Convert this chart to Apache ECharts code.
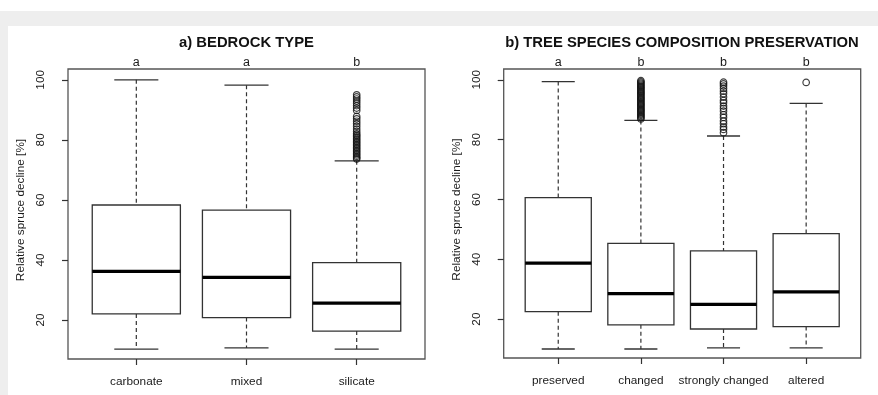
<!DOCTYPE html>
<html>
<head>
<meta charset="utf-8">
<script src="https://cdn.jsdelivr.net/npm/echarts@6/dist/echarts.min.js"></script>
<style>
html,body{margin:0;padding:0;background:#fff;}
#chart{width:878px;height:395px;}
</style>
</head>
<body>
<div id="chart"></div>
<script>
// ---- Data ----
const titleA = 'a) BEDROCK TYPE';
const titleB = 'b) TREE SPECIES COMPOSITION PRESERVATION';
const yAxisName = 'Relative spruce decline [%]';
const yTicks = [20, 40, 60, 80, 100];

const bedrockCats = ['carbonate', 'mixed', 'silicate'];
const bedrockLetters = ['a', 'a', 'b'];
// [lower whisker, Q1, median, Q3, upper whisker]
const bedrockCarbonate = [10.3, 22.0, 36.2, 58.3, 100.0];
const bedrockMixed = [10.7, 20.8, 34.2, 56.6, 98.2];
const bedrockSilicate = [10.3, 16.3, 25.6, 39.1, 73.0];
const bedrockSilicateOutliers = [95.0, 94.3, 93.6, 92.9, 92.2, 91.4, 90.6, 89.8, 87.8, 87.0, 86.2, 85.4, 84.5, 83.6, 82.8, 82.0, 81.5, 81.0, 80.5, 80.0, 79.5, 79.0, 78.5, 78.0, 77.5, 77.0, 76.5, 76.0, 75.5, 75.0, 74.5, 74.0, 73.6];

const speciesCats = ['preserved', 'changed', 'strongly changed', 'altered'];
const speciesLetters = ['a', 'b', 'b', 'b'];
const speciesPreserved = [10.0, 22.5, 38.7, 60.6, 99.4];
const speciesChanged = [10.0, 18.1, 28.5, 45.3, 86.4];
const speciesStrongly = [10.4, 16.7, 24.9, 42.8, 81.2];
const speciesAltered = [10.4, 17.5, 29.1, 48.6, 92.1];
const speciesChangedOutliers = [86.9, 87.3, 87.7, 88.1, 88.5, 88.9, 89.3, 89.7, 90.1, 90.5, 90.9, 91.3, 91.7, 92.1, 92.5, 92.9, 93.3, 93.7, 94.1, 94.5, 94.9, 95.3, 95.7, 96.1, 96.5, 96.9, 97.3, 97.7, 98.1, 98.5, 98.9, 99.3, 99.7];
const speciesStronglyOutliers = [82.3, 83.4, 84.2, 85.3, 86.2, 87.4, 88.3, 89.5, 90.4, 91.2, 92.3, 93.1, 94.2, 95.3, 96.2, 97.1, 97.9, 98.6, 99.2];
const speciesAlteredOutliers = [99.1];

// ---- Build ----
const bedrockStats = [bedrockCarbonate, bedrockMixed, bedrockSilicate];
const speciesStats = [speciesPreserved, speciesChanged, speciesStrongly, speciesAltered];
const bedrockOutliers = [[], [], bedrockSilicateOutliers];
const speciesOutliers = [[], speciesChangedOutliers, speciesStronglyOutliers, speciesAlteredOutliers];

const FONT = 'Liberation Sans, Arial, sans-serif';
const LINE = '#333';

function boxData(stats) { return stats.map((s, i) => [i + 1].concat(s)); }
function outlierData(outs) {
  const d = [];
  outs.forEach((arr, i) => arr.forEach(v => d.push([i + 1, v])));
  return d;
}

function renderBox(params, api) {
  const x = api.value(0);
  const lo = api.value(1), q1 = api.value(2), med = api.value(3), q3 = api.value(4), hi = api.value(5);
  const hw = 0.4, cw = 0.2;
  const tl = api.coord([x - hw, q3]);
  const br = api.coord([x + hw, q1]);
  const mL = api.coord([x - hw, med]);
  const mR = api.coord([x + hw, med]);
  const cHiL = api.coord([x - cw, hi]), cHiR = api.coord([x + cw, hi]);
  const cLoL = api.coord([x - cw, lo]), cLoR = api.coord([x + cw, lo]);
  const pHi = api.coord([x, hi]), pQ3 = api.coord([x, q3]);
  const pQ1 = api.coord([x, q1]), pLo = api.coord([x, lo]);
  const solid = { stroke: LINE, lineWidth: 1.3, fill: null };
  const dashed = { stroke: LINE, lineWidth: 1.2, lineDash: [4, 3], fill: null };
  return {
    type: 'group',
    children: [
      { type: 'line', shape: { x1: pHi[0], y1: pHi[1], x2: pQ3[0], y2: pQ3[1] }, style: dashed },
      { type: 'line', shape: { x1: pQ1[0], y1: pQ1[1], x2: pLo[0], y2: pLo[1] }, style: dashed },
      { type: 'line', shape: { x1: cHiL[0], y1: cHiL[1], x2: cHiR[0], y2: cHiR[1] }, style: solid },
      { type: 'line', shape: { x1: cLoL[0], y1: cLoL[1], x2: cLoR[0], y2: cLoR[1] }, style: solid },
      { type: 'rect', shape: { x: tl[0], y: tl[1], width: br[0] - tl[0], height: br[1] - tl[1] }, style: { stroke: LINE, lineWidth: 1.3, fill: '#fff' } },
      { type: 'line', shape: { x1: mL[0], y1: mL[1], x2: mR[0], y2: mR[1] }, style: { stroke: '#000', lineWidth: 3.2 } }
    ]
  };
}

function xBottom(gridIndex, cats) {
  const vals = cats.map((c, i) => i + 1);
  return {
    type: 'value', gridIndex: gridIndex, position: 'bottom',
    min: 0.5 - 0.04 * cats.length, max: cats.length + 0.5 + 0.04 * cats.length,
    axisLine: { show: false }, splitLine: { show: false },
    axisTick: { show: true, customValues: vals, length: 6, lineStyle: { color: LINE, width: 1.2 } },
    axisLabel: { customValues: vals, margin: 17, fontFamily: FONT, fontSize: 11.8, color: '#1a1a1a',
      formatter: v => cats[Math.round(v) - 1] || '' }
  };
}
function xTop(gridIndex, cats, letters) {
  const vals = cats.map((c, i) => i + 1);
  return {
    type: 'value', gridIndex: gridIndex, position: 'top',
    min: 0.5 - 0.04 * cats.length, max: cats.length + 0.5 + 0.04 * cats.length,
    axisLine: { show: false }, splitLine: { show: false }, axisTick: { show: false },
    axisLabel: { customValues: vals, margin: 0, fontFamily: FONT, fontSize: 12.5, color: '#1a1a1a',
      formatter: v => letters[Math.round(v) - 1] || '' }
  };
}
function yAx(gridIndex) {
  return {
    type: 'value', gridIndex: gridIndex, min: 7, max: 103.6,
    name: yAxisName, nameLocation: 'middle', nameGap: 41,
    nameTextStyle: { fontFamily: FONT, fontSize: 11.8, color: '#1a1a1a', padding: [0, 0, 0, 8] },
    axisLine: { show: false }, splitLine: { show: false },
    axisTick: { show: true, customValues: yTicks, length: 6, lineStyle: { color: LINE, width: 1.2 } },
    axisLabel: { customValues: yTicks, rotate: 90, margin: 21, fontFamily: FONT, fontSize: 11.8, color: '#1a1a1a' }
  };
}

const chart = echarts.init(document.getElementById('chart'), null, { renderer: 'canvas' });
const option = {
  animation: false,
  backgroundColor: '#fff',
  graphic: [
    { type: 'rect', shape: { x: 0, y: 11, width: 878, height: 15 }, style: { fill: '#eeeeee' }, silent: true },
    { type: 'rect', shape: { x: 0, y: 26, width: 8, height: 369 }, style: { fill: '#eeeeee' }, silent: true }
  ],
  title: [
    { text: titleA, left: 241.5, top: 30, textAlign: 'center',
      textStyle: { fontFamily: FONT, fontWeight: 'bold', fontSize: 14.8, color: '#111' } },
    { text: titleB, left: 677, top: 30, textAlign: 'center',
      textStyle: { fontFamily: FONT, fontWeight: 'bold', fontSize: 14.8, color: '#111' } }
  ],
  grid: [
    { left: 68, top: 69, width: 357, height: 290, show: true, borderColor: '#555', borderWidth: 1.3, backgroundColor: 'transparent' },
    { left: 503.7, top: 69, width: 357, height: 289, show: true, borderColor: '#555', borderWidth: 1.3, backgroundColor: 'transparent' }
  ],
  xAxis: [
    xBottom(0, bedrockCats), xTop(0, bedrockCats, bedrockLetters),
    xBottom(1, speciesCats), xTop(1, speciesCats, speciesLetters)
  ],
  yAxis: [yAx(0), yAx(1)],
  series: [
    { type: 'custom', xAxisIndex: 0, yAxisIndex: 0, renderItem: renderBox, data: boxData(bedrockStats), encode: { x: 0, y: [1, 2, 3, 4, 5] }, z: 2 },
    { type: 'custom', xAxisIndex: 2, yAxisIndex: 1, renderItem: renderBox, data: boxData(speciesStats), encode: { x: 0, y: [1, 2, 3, 4, 5] }, z: 2 },
    { type: 'scatter', xAxisIndex: 0, yAxisIndex: 0, data: outlierData(bedrockOutliers), symbol: 'circle', symbolSize: 6.5,
      itemStyle: { color: 'rgba(0,0,0,0)', borderColor: '#111', borderWidth: 1.2 }, z: 3 },
    { type: 'scatter', xAxisIndex: 2, yAxisIndex: 1, data: outlierData(speciesOutliers), symbol: 'circle', symbolSize: 6.5,
      itemStyle: { color: 'rgba(0,0,0,0)', borderColor: '#111', borderWidth: 1.2 }, z: 3 }
  ]
};
chart.setOption(option);
</script>
</body>
</html>
